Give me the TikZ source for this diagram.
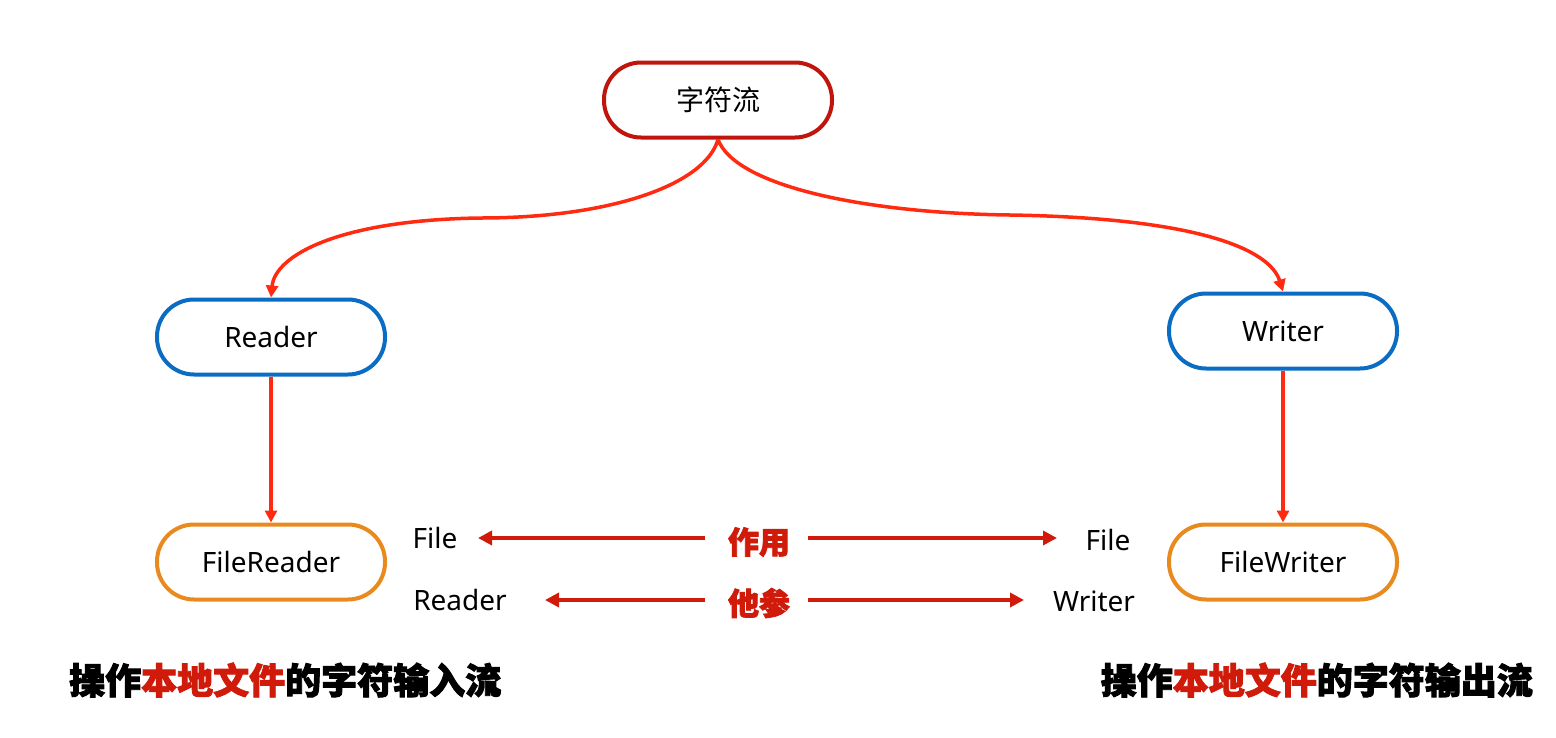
\documentclass[tikz,border=0pt]{standalone}
\usepackage{fontspec}
\setmainfont{Noto Sans}
\newfontfamily\cjk{Noto Sans CJK SC}
\newfontfamily\cjkh[BoldFeatures={FakeBold=2.5}]{Noto Sans CJK SC}
\usetikzlibrary{arrows.meta}
\definecolor{topred}{HTML}{C0150C}
\definecolor{boxblue}{HTML}{0A6CC2}
\definecolor{boxorange}{HTML}{E98A1E}
\definecolor{curvered}{HTML}{FF2A10}
\definecolor{midred}{HTML}{D01A0A}
\tikzset{
  pill/.style={draw, line width=4pt, rounded corners=37pt, minimum width=228pt, minimum height=75pt, fill=white, font=\fontsize{28}{32}\selectfont, inner sep=0pt},
  conn/.style={draw=curvered, line width=3.5pt, -{Triangle[length=12pt,width=12pt]}},
  midarrow/.style={draw=midred, line width=4pt, -{Triangle[length=14pt,width=14pt]}},
  lbl/.style={font=\fontsize{28}{32}\selectfont, inner sep=0pt},
  keyw/.style={font=\cjkh\bfseries\fontsize{31}{34}\selectfont, text=midred, inner sep=0pt},
  caption/.style={font=\cjkh\bfseries\fontsize{36}{40}\selectfont, inner sep=0pt},
}
\begin{document}
\begin{tikzpicture}[x=1pt,y=-1pt]
\useasboundingbox (0,0) rectangle (1556,737);
\node[pill, draw=topred] (top) at (718,100) {\cjk 字符流};
\node[pill, draw=boxblue] (reader) at (271,337) {Reader};
\node[pill, draw=boxblue] (writer) at (1283,331) {Writer};
\node[pill, draw=boxorange] (freader) at (271,562) {FileReader};
\node[pill, draw=boxorange] (fwriter) at (1283,562) {FileWriter};

\coordinate (lmid) at (480,218);
\coordinate (rmid) at (1010,215);
\draw[conn] (top.south) .. controls (705,185) and (610,218) .. (lmid) .. controls (340,220) and (275,255) .. (reader.north);
\draw[conn] (top.south) .. controls (735,185) and (860,213) .. (rmid) .. controls (1200,218) and (1270,250) .. (writer.north);
\draw[conn] (reader.south) -- (freader.north);
\draw[conn] (writer.south) -- (fwriter.north);

\node[lbl] (file1) at (435,538) {File};
\node[lbl] (file2) at (1108,540) {File};
\node[lbl] (rd) at (460,600) {Reader};
\node[lbl] (wr) at (1094,601) {Writer};
\node[keyw] (zy) at (759,542) {作用};
\node[keyw] (tc) at (759,603) {他参};

\coordinate (zyl) at (705,538);
\coordinate (zyr) at (808,538);
\coordinate (tcl) at (705,600);
\coordinate (tcr) at (808,600);
\coordinate (f1e) at (478,538);
\coordinate (f2e) at (1057,538);
\coordinate (rde) at (545,600);
\coordinate (wre) at (1024,600);
\draw[midarrow] (zyl) -- (f1e);
\draw[midarrow] (zyr) -- (f2e);
\draw[midarrow] (tcl) -- (rde);
\draw[midarrow] (tcr) -- (wre);

\node[caption, anchor=west] (capl) at (69,680) {操作\textcolor{midred}{本地文件}的字符输入流};
\node[caption, anchor=east] (capr) at (1533,680) {操作\textcolor{midred}{本地文件}的字符输出流};
\end{tikzpicture}
\end{document}
